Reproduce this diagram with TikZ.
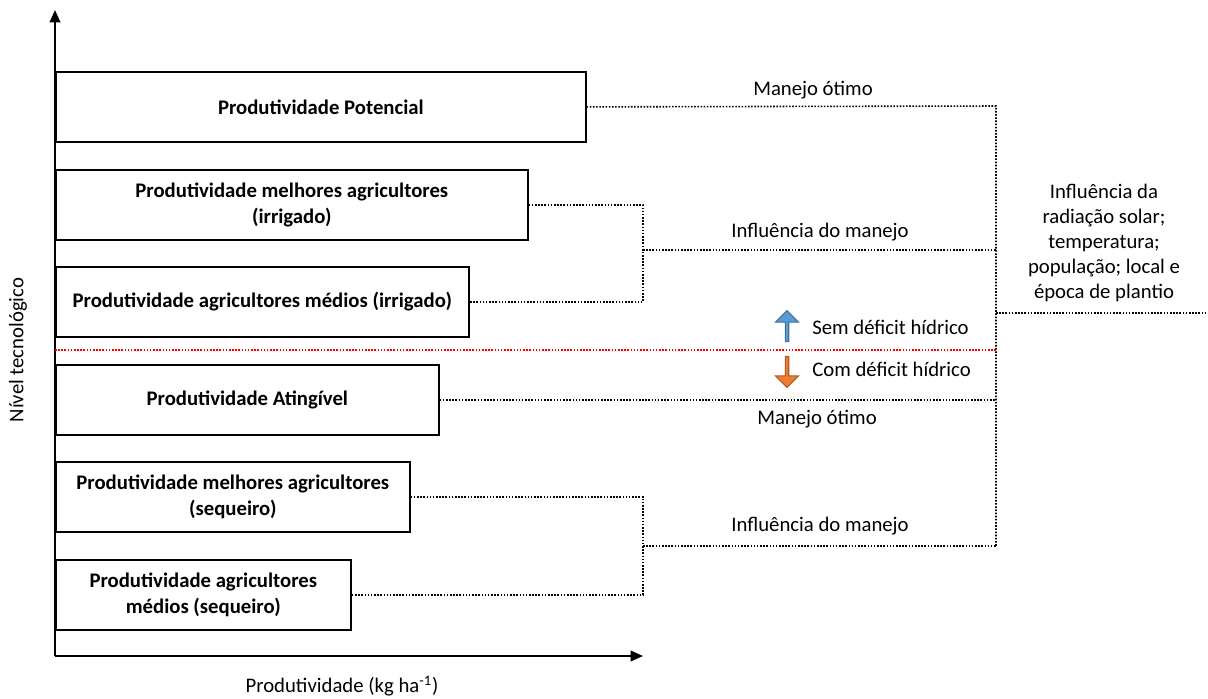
\documentclass[tikz,border=0pt]{standalone}
\usepackage{fontspec}
\setmainfont{Carlito}
\usetikzlibrary{arrows.meta, positioning, shapes.arrows}
\definecolor{arrowblue}{RGB}{91,155,213}
\definecolor{arrowblueline}{RGB}{65,113,156}
\definecolor{arroworange}{RGB}{237,125,49}
\definecolor{arroworangeline}{RGB}{174,90,33}

\begin{document}
\begin{tikzpicture}[x=0.02cm, y=-0.02cm,
  prodbox/.style={draw, line width=1pt, minimum height=1.4cm, anchor=north west,
                  align=center, inner sep=2pt, font=\fontsize{11.8}{14.6}\selectfont\bfseries},
  link/.style={line width=0.9pt, dash pattern=on 0.9pt off 0.9pt},
  lbl/.style={font=\fontsize{11.8}{14.2}\selectfont, align=center, inner sep=0pt},
  axis/.style={line width=1.1pt, -{Triangle[length=7pt, width=6pt]}},
  waterarrow/.style={single arrow, draw, line width=0.6pt, minimum height=0.62cm,
                     minimum width=0.46cm, single arrow head extend=0.06cm, inner sep=0pt}]
  \useasboundingbox (0,0) rectangle (1208,698);

  % axes
  \coordinate (origin) at (55,656);
  \coordinate (ytip) at (55,10);
  \coordinate (xtip) at (643,656);
  \draw[axis] (origin) -- (ytip);
  \draw[axis] (origin) -- (xtip);
  \node[lbl, rotate=90] (ylab) at (18,350) {Nível tecnológico};
  \node[lbl] (xlab) at (342,686) {Produtividade (kg ha\textsuperscript{-1})};

  % productivity levels
  \node[prodbox, minimum width=10.6cm]  (pot)    at (55,71)  {Produtividade Potencial};
  \node[prodbox, minimum width=9.44cm]  (melirr) at (55,169) {Produtividade melhores agricultores\\(irrigado)};
  \node[prodbox, minimum width=8.26cm]  (medirr) at (55,266) {Produtividade agricultores médios (irrigado)};
  \node[prodbox, minimum width=7.66cm]  (ating)  at (55,364) {Produtividade Atingível};
  \node[prodbox, minimum width=7.08cm]  (melseq) at (55,461) {Produtividade melhores agricultores\\(sequeiro)};
  \node[prodbox, minimum width=5.9cm]   (medseq) at (55,559) {Produtividade agricultores\\médios (sequeiro)};

  % dotted connectors
  \coordinate (vtop) at (996,106);
  \coordinate (vbot) at (996,546);
  \coordinate (vmid) at (996,313);
  \coordinate (redge) at (1208,313);
  \coordinate (brirr) at (643,250);
  \coordinate (brseq) at (643,546);
  \draw[link] (pot.east) -- (vtop) -- (vbot);
  \draw[link] (melirr.east) -| (brirr) |- (medirr.east);
  \draw[link] (brirr) -- (brirr -| vtop);
  \draw[link] (ating.east) -- (ating.east -| vtop);
  \draw[link] (melseq.east) -| (brseq) |- (medseq.east);
  \draw[link] (brseq) -- (vbot);
  \draw[link] (vmid) -- (redge);
  \coordinate (redstart) at (55,350);
  \draw[red, line width=0.8pt, dash pattern=on 0.9pt off 0.9pt] (redstart) -- (redstart -| vtop);

  % labels
  \node[lbl] (otimo1) at (813,90)  {Manejo ótimo};
  \node[lbl] (infl1)  at (820,232) {Influência do manejo};
  \node[lbl] (otimo2) at (817,419) {Manejo ótimo};
  \node[lbl] (infl2)  at (820,526) {Influência do manejo};
  \node[lbl] (clima)  at (1104,243) {Influência da\\radiação solar;\\temperatura;\\população; local e\\época de plantio};

  % water deficit
  \node[waterarrow, fill=arrowblue, draw=arrowblueline, shape border rotate=90] (up) at (787,327) {};
  \node[waterarrow, fill=arroworange, draw=arroworangeline, shape border rotate=270] (down) at (787,371) {};
  \node[lbl, anchor=west] (sem) at (812,327) {Sem déficit hídrico};
  \node[lbl, anchor=west] (com) at (812,369) {Com déficit hídrico};
\end{tikzpicture}
\end{document}
